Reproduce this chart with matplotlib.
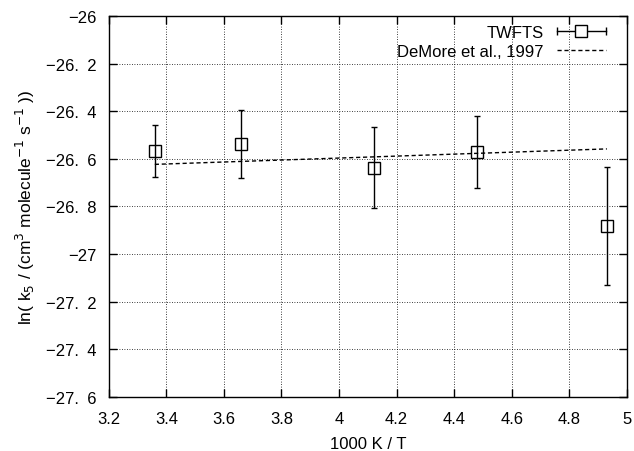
import matplotlib
matplotlib.use('Agg')
import matplotlib.pyplot as plt
from matplotlib.legend_handler import HandlerBase
from matplotlib.lines import Line2D

plt.rcParams['font.family'] = ['Liberation Sans', 'DejaVu Sans']
plt.rcParams['axes.unicode_minus'] = True

# TWFTS measurements
inv_T = [3.36, 3.66, 4.12, 4.48, 4.93]
ln_k5 = [-26.566, -26.537, -26.637, -26.572, -26.881]
ln_k5_err = [0.109, 0.143, 0.170, 0.151, 0.249]

# DeMore et al., 1997 recommendation
demore_x = [3.36, 4.93]
demore_y = [-26.623, -26.558]

xticks = [3.2, 3.4, 3.6, 3.8, 4.0, 4.2, 4.4, 4.6, 4.8, 5.0]
xtick_labels = ['3.2', '3.4', '3.6', '3.8', '4', '4.2', '4.4', '4.6', '4.8', '5']
yticks = [-26.0, -26.2, -26.4, -26.6, -26.8, -27.0, -27.2, -27.4, -27.6]
# gnuplot-like labels with a gap after the decimal point
ytick_labels = ['\u221226', '\u221226.\u20022', '\u221226.\u20024', '\u221226.\u20026',
                '\u221226.\u20028', '\u221227', '\u221227.\u20022', '\u221227.\u20024',
                '\u221227.\u20026']

FS = 12


# legend sample like gnuplot: horizontal bar with caps and a square
class HandlerHBar(HandlerBase):
    def create_artists(self, legend, orig_handle, xdescent, ydescent,
                       width, height, fontsize, trans):
        y = height / 2 - ydescent
        x0, x1 = -xdescent, width - xdescent
        line = Line2D([x0, x1], [y, y], color='k', lw=1, transform=trans)
        caps = Line2D([x0, x1], [y, y], ls='none', marker='|', ms=6,
                      mew=1, color='k', transform=trans)
        sq = Line2D([(x0 + x1) / 2], [y], ls='none', marker='s', ms=8.5,
                    mfc='white', mec='k', mew=1, transform=trans)
        return [line, caps, sq]


fig = plt.figure(figsize=(6.34, 4.52), dpi=100)
ax = fig.add_axes([0.1715, 0.120, 0.8175, 0.842])

ax.errorbar(inv_T, ln_k5, yerr=ln_k5_err, fmt='none', ecolor='k',
            elinewidth=1, capsize=2.3, capthick=1, zorder=3)
ax.plot(inv_T, ln_k5, ls='none', marker='s', ms=8, mfc='none',
        mec='k', mew=1, zorder=4)
ax.plot(demore_x, demore_y, color='k', ls=(0, (3, 2)), lw=1, zorder=3)

ax.set_xlim(3.2, 5.0)
ax.set_ylim(-27.6, -26.0)
ax.set_xticks(xticks)
ax.set_xticklabels(xtick_labels)
ax.set_yticks(yticks)
ax.set_yticklabels(ytick_labels)
ax.tick_params(direction='in', length=6, width=1, top=True, right=True,
               labelsize=FS)
ax.tick_params(axis='x', pad=10)
ax.tick_params(axis='y', pad=9)
ax.grid(True, color='k', ls=(0, (1, 2)), lw=0.6)
for s in ax.spines.values():
    s.set_linewidth(1)

ax.set_xlabel('1000 K / T', fontsize=FS)
ax.set_ylabel('ln( k$_5$ / (cm$^3$ molecule$^{-1}$ s$^{-1}$ ))', fontsize=12.5)
ax.xaxis.set_label_coords(0.5, -0.103)
ax.yaxis.set_label_coords(-0.138, 0.5)

h1 = Line2D([], [], color='k')
h2 = Line2D([], [], color='k', ls=(0, (3, 2)), lw=1)
ax.legend([h1, h2], ['TWFTS', 'DeMore et al., 1997'],
          handler_map={h1: HandlerHBar()}, loc='upper right',
          bbox_to_anchor=(0.9595, 0.976), frameon=False, markerfirst=False,
          handlelength=2.95, handletextpad=0.8, labelspacing=0.22,
          borderpad=0, borderaxespad=0, fontsize=FS)

fig.savefig('out.png', dpi=100)
